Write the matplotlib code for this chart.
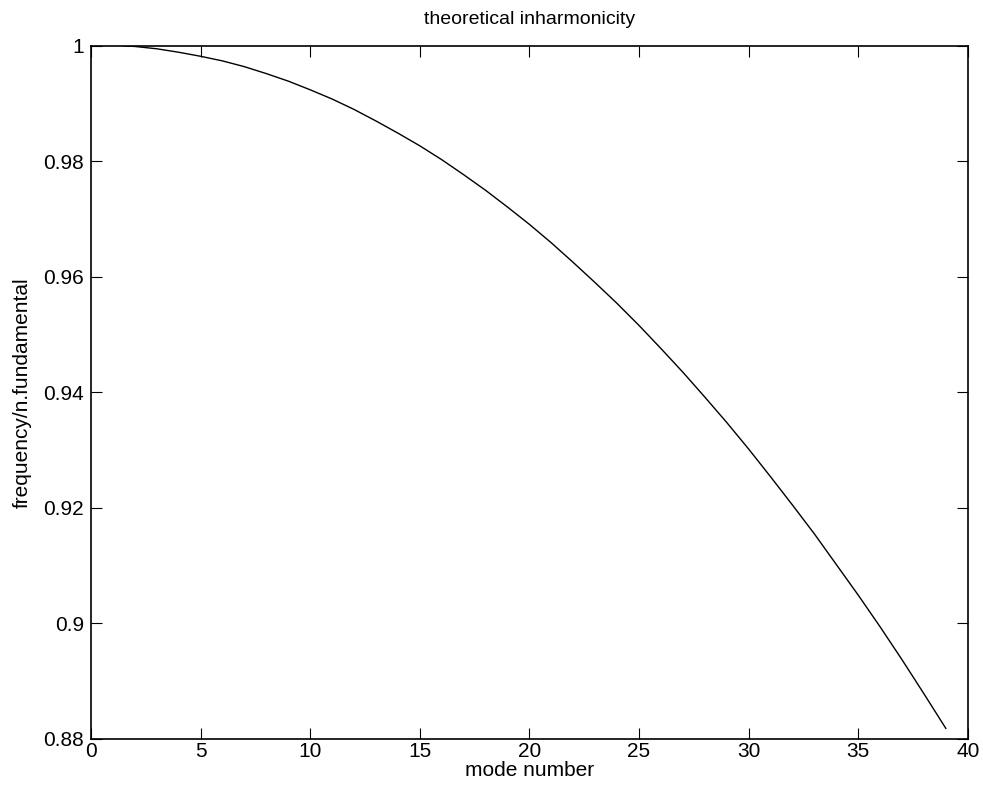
import matplotlib
matplotlib.use('Agg')
import matplotlib.pyplot as plt

# values
mode = [1.5, 2, 3, 4, 5, 6, 7, 8, 9, 10, 11, 12, 13, 14, 15, 16, 17, 18, 19, 20,
        21, 22, 23, 24, 25, 26, 27, 28, 29, 30, 31, 32, 33, 34, 35, 36, 37, 38, 39]
ratio = [1.0, 0.9999, 0.9995, 0.9989, 0.9982, 0.9974, 0.9964, 0.9952, 0.9939, 0.9924,
         0.9908, 0.9890, 0.9870, 0.9849, 0.9827, 0.9803, 0.9777, 0.9750, 0.9721, 0.9691,
         0.9659, 0.9625, 0.9590, 0.9554, 0.9516, 0.9476, 0.9435, 0.9392, 0.9348, 0.9302,
         0.9254, 0.9205, 0.9155, 0.9102, 0.9049, 0.8994, 0.8937, 0.8878, 0.8818]

plt.rcParams['font.family'] = ['Liberation Sans', 'DejaVu Sans']

fig = plt.figure(figsize=(9.83, 7.91), dpi=100)
ax = fig.add_axes([0.0925, 0.066, 0.892, 0.876])

ax.plot(mode, ratio, color='black', linewidth=1)

ax.set_xlim(0, 40)
ax.set_ylim(0.88, 1.0)
ax.set_xticks(range(0, 41, 5))
ax.set_yticks([0.88, 0.9, 0.92, 0.94, 0.96, 0.98, 1.0])
ax.set_yticklabels(['0.88', '0.9', '0.92', '0.94', '0.96', '0.98', '1'])
ax.tick_params(direction='in', length=8, top=True, right=True, labelsize=15)
ax.tick_params(axis='x', pad=2)
ax.tick_params(axis='y', pad=5)
for s in ax.spines.values():
    s.set_linewidth(1.2)

ax.set_title('theoretical inharmonicity', fontsize=14, pad=16)
ax.set_xlabel('mode number', fontsize=15, labelpad=0)
ax.set_ylabel('frequency/n.fundamental', fontsize=15, labelpad=8)

fig.savefig('out.png', dpi=100)
